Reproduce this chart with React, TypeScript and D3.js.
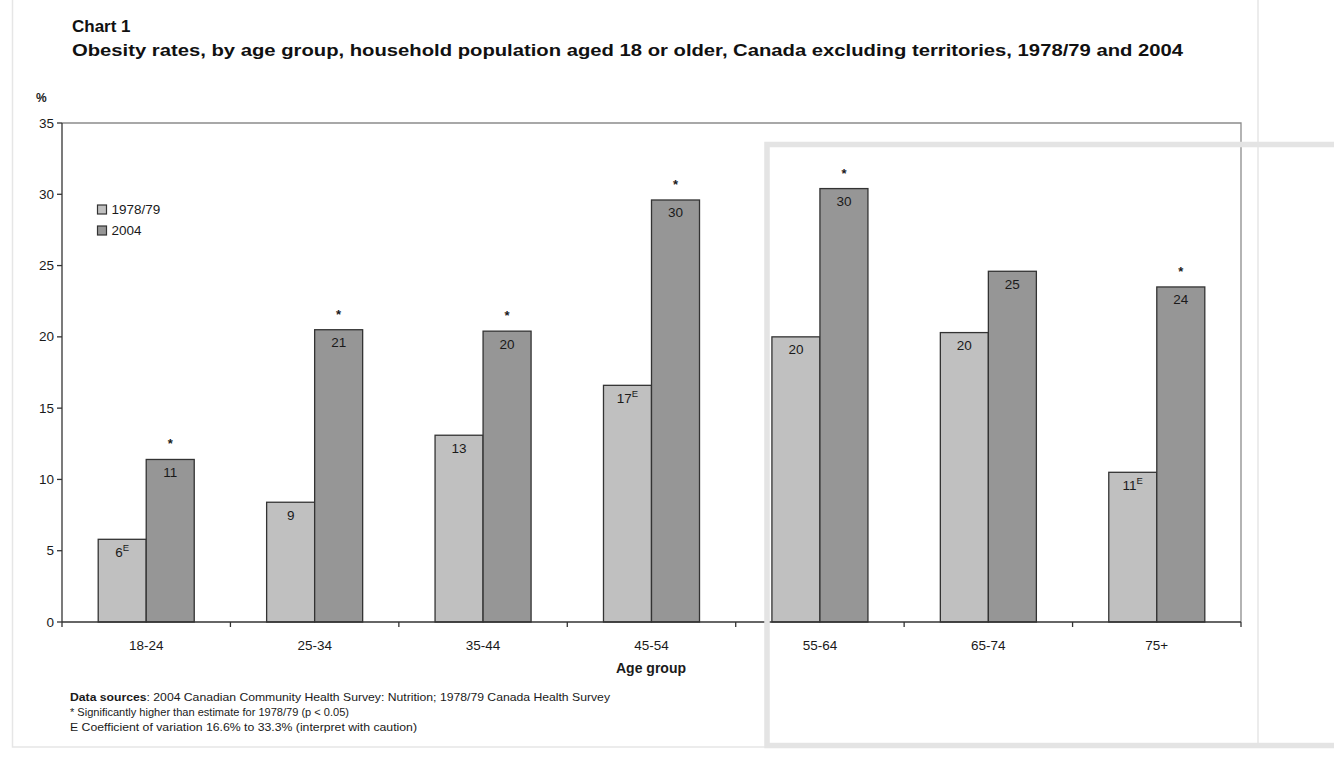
import React from "react";
import * as d3 from "d3";

const categories = ["18-24", "25-34", "35-44", "45-54", "55-64", "65-74", "75+"];
const seriesNames = ["1978/79", "2004"];
const values1978 = [5.8, 8.4, 13.1, 16.6, 20.0, 20.3, 10.5];
const values2004 = [11.4, 20.5, 20.4, 29.6, 30.4, 24.6, 23.5];
const labels1978 = ["6", "9", "13", "17", "20", "20", "11"];
const labels2004 = ["11", "21", "20", "30", "30", "25", "24"];
const caution1978 = [true, false, false, true, false, false, true];
const significant2004 = [true, true, true, true, true, false, true];
const yTicks = [0, 5, 10, 15, 20, 25, 30, 35];

const W = 1334;
const H = 759;
const m = { left: 62, right: 1241, top: 123, bottom: 622 };
const colors = ["#c0c0c0", "#969696"];
const font = "'Liberation Sans', Arial, sans-serif";
const ink = "#1a1a1a";

const App = () => {
  const x = d3.scaleBand().domain(categories).range([m.left, m.right]);
  const xs = d3
    .scaleBand()
    .domain(seriesNames)
    .range([0, x.bandwidth()])
    .paddingInner(0)
    .paddingOuter(0.754);
  const y = d3.scaleLinear().domain([0, 35]).range([m.bottom, m.top]);

  const bars = categories.flatMap((c, i) => [
    { c, s: seriesNames[0], v: values1978[i], label: labels1978[i], e: caution1978[i], star: false },
    { c, s: seriesNames[1], v: values2004[i], label: labels2004[i], e: false, star: significant2004[i] },
  ]);

  const boundaries = [...categories.map((c) => x(c)), m.right];

  return (
    <div style={{ position: "absolute", left: 0, top: 0, background: "#fff" }}>
      <svg width={W} height={H} style={{ display: "block", fontFamily: font }}>
        <rect x={0} y={0} width={W} height={H} fill="#fff" />
        {/* page frame */}
        <rect x={12.5} y={-2} width={1245.5} height={749} fill="none" stroke="#e6e6e6" strokeWidth={1.5} />

        <text x={72} y={32} fontSize={17} fontWeight="bold" fill="#111">Chart 1</text>
        <text x={72} y={56} fontSize={17} fontWeight="bold" fill="#111" textLength={1111} lengthAdjust="spacingAndGlyphs">
          Obesity rates, by age group, household population aged 18 or older, Canada excluding territories, 1978/79 and 2004
        </text>
        <text x={36} y={102} fontSize={12} fontWeight="bold" fill={ink}>%</text>

        {/* plot border */}
        <path d={`M${m.left},${m.top}H${m.right}V${m.bottom}`} fill="none" stroke="#8c8c8c" strokeWidth={1.3} />

        {bars.map((b, i) => {
          const bx = (x(b.c) as number) + (xs(b.s) as number);
          const by = y(b.v);
          const bw = xs.bandwidth();
          const cx = bx + bw / 2;
          return (
            <g key={i}>
              <rect x={bx} y={by} width={bw} height={m.bottom - by} fill={b.s === seriesNames[0] ? colors[0] : colors[1]} stroke="#333" strokeWidth={1.3} />
              <text x={cx} y={by + 17.5} textAnchor="middle" fontSize={13.5} fill={ink}>
                {b.label}
                {b.e && <tspan dy={-6} fontSize={9.5}>E</tspan>}
              </text>
              {b.star && (
                <text x={cx} y={by - 11} textAnchor="middle" fontSize={13} fontWeight="bold" fill={ink}>*</text>
              )}
            </g>
          );
        })}

        {/* y axis */}
        <line x1={m.left} x2={m.left} y1={m.top} y2={m.bottom} stroke="#333" strokeWidth={1.3} />
        {yTicks.map((t) => (
          <g key={t}>
            <line x1={m.left - 5} x2={m.left} y1={y(t)} y2={y(t)} stroke="#333" strokeWidth={1.3} />
            <text x={54} y={y(t) + 4.5} textAnchor="end" fontSize={13.5} fill={ink}>{t}</text>
          </g>
        ))}

        {/* x axis */}
        <line x1={m.left} x2={m.right} y1={m.bottom} y2={m.bottom} stroke="#333" strokeWidth={1.3} />
        {boundaries.map((bx, i) => (
          <line key={i} x1={bx} x2={bx} y1={m.bottom} y2={m.bottom + 5} stroke="#333" strokeWidth={1.3} />
        ))}
        {categories.map((c) => (
          <text key={c} x={(x(c) as number) + x.bandwidth() / 2} y={650} textAnchor="middle" fontSize={13.5} fill={ink}>{c}</text>
        ))}
        <text x={651} y={673} textAnchor="middle" fontSize={14} fontWeight="bold" fill={ink}>Age group</text>

        {/* legend */}
        {seriesNames.map((s, i) => (
          <g key={s} transform={`translate(97.5,${205 + i * 21})`}>
            <rect x={0} y={0} width={9} height={9} fill={colors[i]} stroke="#333" strokeWidth={1.2} />
            <text x={14} y={9} fontSize={13.5} fill={ink}>{s}</text>
          </g>
        ))}

        {/* footnotes */}
        <text x={70} y={701} fontSize={11} fill={ink} textLength={540} lengthAdjust="spacingAndGlyphs">
          <tspan fontWeight="bold">Data sources</tspan>: 2004 Canadian Community Health Survey: Nutrition; 1978/79 Canada Health Survey
        </text>
        <text x={70} y={716} fontSize={11} fill={ink} textLength={279} lengthAdjust="spacingAndGlyphs">
          * Significantly higher than estimate for 1978/79 (p &lt; 0.05)
        </text>
        <text x={70} y={731} fontSize={11} fill={ink} textLength={347} lengthAdjust="spacingAndGlyphs">
          E Coefficient of variation 16.6% to 33.3% (interpret with caution)
        </text>

        {/* gray selection box overlay */}
        <rect x={767} y={144.5} width={700} height={601} fill="none" stroke="#e4e4e4" strokeWidth={5.5} />
      </svg>
    </div>
  );
};

export default App;
